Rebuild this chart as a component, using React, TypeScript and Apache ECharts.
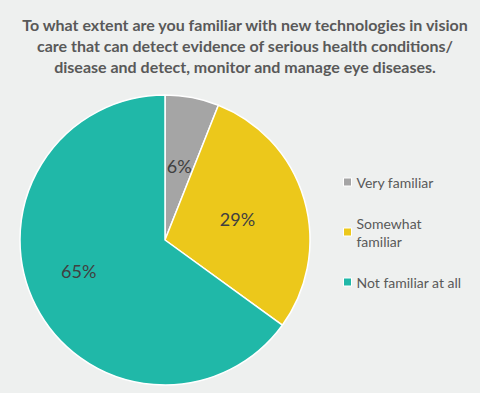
import React, { useEffect, useRef } from "react";
import * as echarts from "echarts";

const titleLines = [
  "To what extent are you familiar with new technologies in vision",
  "care that can detect evidence of serious health conditions/",
  "disease and detect, monitor and manage eye diseases.",
];
const categories = ["Very familiar", "Somewhat familiar", "Not familiar at all"];
const legendTexts = ["Very familiar", "Somewhat\nfamiliar", "Not familiar at all"];
const values = [6, 29, 65];
const colors = ["#a5a5a5", "#ecc81b", "#20b8a8"];

export default function App() {
  const ref = useRef<HTMLDivElement>(null);
  useEffect(() => {
    document.body.style.margin = "0";
    const chart = echarts.init(ref.current!, undefined, { renderer: "svg" });
    const legendTops = [173, 205, 273];
    const legends = categories.map((c, i) => ({
      orient: "vertical",
      left: 343,
      top: legendTops[i],
      padding: 0,
      itemWidth: 8,
      itemHeight: 8,
      itemGap: 0,
      icon: "rect",
      itemStyle: { borderColor: "#ffffff", borderWidth: 1 },
      selectedMode: false,
      data: [c],
      formatter: () => legendTexts[i],
      textStyle: {
        fontFamily: "Lato",
        fontSize: 14,
        color: "#595959",
        lineHeight: 18,
        padding: i === 1 ? [18, 0, 0, 0] : 0,
      },
    }));
    chart.setOption({
      animation: false,
      backgroundColor: "#eef0ef",
      title: {
        text: titleLines.join("\n"),
        left: 240,
        top: 9,
        textAlign: "center",
        textStyle: {
          fontFamily: "Lato",
          fontWeight: "bold",
          fontSize: 16,
          color: "#595959",
          lineHeight: 21,
        },
      },
      legend: legends,
      series: [
        {
          type: "pie",
          center: [165, 240],
          radius: 145,
          startAngle: 90,
          clockwise: true,
          itemStyle: { borderColor: "#ffffff", borderWidth: 1.5 },
          label: {
            show: true,
            position: "inside",
            formatter: "{c}%",
            fontFamily: "Lato",
            fontSize: 18,
            color: "#404040",
          },
          labelLine: { show: false },
          emphasis: { disabled: true },
          data: categories.map((c, i) => ({
            name: c,
            value: values[i],
            itemStyle: { color: colors[i] },
            label: i === 2 ? { offset: [-19, -3] } : undefined,
          })),
        },
      ],
    });
    return () => chart.dispose();
  }, []);
  return <div ref={ref} style={{ width: 480, height: 393 }} />;
}
